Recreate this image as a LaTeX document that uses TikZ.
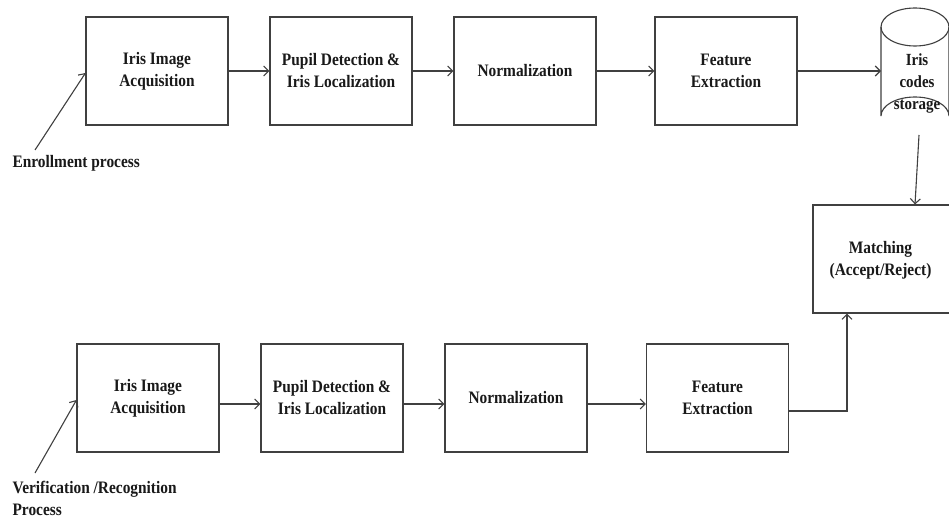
\documentclass[tikz,border=0pt]{standalone}
\usepackage{fontspec}
\setmainfont{Liberation Serif}[FakeStretch=0.88]
\usetikzlibrary{arrows.meta}
\begin{document}
\begin{tikzpicture}[x=1pt,y=-1pt,
  line width=1.1pt,
  lc/.style={draw=black!75},
  txt/.style={font=\bfseries\fontsize{17.5}{22}\selectfont, text=black!90, align=center},
  box/.style={lc, txt, rectangle, minimum width=142pt, minimum height=108pt, inner sep=0pt},
  arr/.style={lc, -{Straight Barb[length=5pt,width=10pt,line width=1.1pt]}},
  lbl/.style={font=\bfseries\fontsize{17.5}{22}\selectfont, text=black!90, align=left, inner sep=0pt}]
\clip (0,0) rectangle (949,521);
\fill[white] (0,0) rectangle (949,521);
% top row
\node[box] (a1) at (157,71) {Iris Image\\Acquisition};
\node[box] (a2) at (341,71) {Pupil Detection \&\\Iris Localization};
\node[box] (a3) at (525,71) {Normalization};
\node[box] (a4) at (726,71) {Feature\\Extraction};
% cylinder
\draw[lc] (881,27) -- (881,116) arc[start angle=180,end angle=360,x radius=34,y radius=19] -- (949,27);
\draw[lc] (915,27) ellipse[x radius=34,y radius=19];
\node[txt, inner sep=0pt, font=\bfseries\fontsize{17}{22}\selectfont] (store) at (917,83) {Iris\\codes\\storage};
\coordinate (cylL) at (881,71);
\coordinate (cylB) at (919,135);
% matching
\node[box, minimum width=160pt] (m) at (893,259) {};
\node[txt, inner sep=0pt] (mt) at (880.5,260) {Matching\\(Accept/Reject)};
% bottom row
\node[box] (b1) at (148,398) {Iris Image\\Acquisition};
\node[box] (b2) at (332,398) {Pupil Detection \&\\Iris Localization};
\node[box] (b3) at (516,398) {Normalization};
\node[box] (b4) at (717.5,398) {Feature\\Extraction};
% connectors top
\draw[arr] (a1.east) -- (a2.west);
\draw[arr] (a2.east) -- (a3.west);
\draw[arr] (a3.east) -- (a4.west);
\draw[arr] (a4.east) -- (cylL);
\draw[arr] (cylB) -- (m.north -| 915,0);
% connectors bottom
\draw[arr] ([yshift=-6pt]b1.east) -- ([yshift=-6pt]b2.west);
\draw[arr] ([yshift=-6pt]b2.east) -- ([yshift=-6pt]b3.west);
\draw[arr] ([yshift=-6pt]b3.east) -- ([yshift=-6pt]b4.west);
\draw[arr] ([yshift=-13pt]b4.east) -| (m.south -| 847,0);
% labels
\node[lbl, anchor=west] (enr) at (12,163) {Enrollment process};
\coordinate (e0) at (35,150);
\draw[arr] (e0) -- (a1.west |- 0,73);
\node[lbl, anchor=north west] (ver) at (12,481) {Verification /Recognition\\Process};
\coordinate (v0) at (35,473);
\draw[arr] (v0) -- (b1.west |- 0,400);
\end{tikzpicture}
\end{document}
